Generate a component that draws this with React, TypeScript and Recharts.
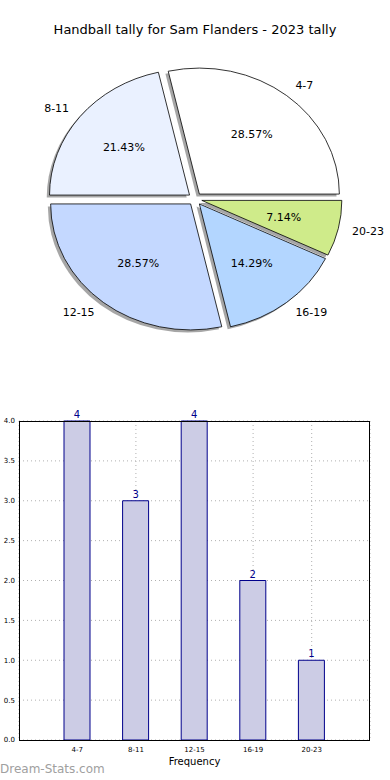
import { PieChart, Pie, Cell, BarChart, Bar, XAxis, YAxis, CartesianGrid, LabelList } from "recharts";

/* ===== data ===== */
const categories = ["4-7", "8-11", "12-15", "16-19", "20-23"];
const counts = [4, 3, 4, 2, 1];
const sliceColors = ["#ffffff", "#eaf1ff", "#c4d8ff", "#b3d6ff", "#cfeb8a"];
const yTicks = [0, 0.5, 1, 1.5, 2, 2.5, 3, 3.5, 4];

const FONT = "'DejaVu Sans', sans-serif";
const RAD = Math.PI / 180;
const Y_SCALE = 0.9; // pie is drawn as an ellipse, like the un-equal matplotlib axes
const EXPLODE = 0.05;

const total = counts.reduce((a, b) => a + b, 0);
const pieData = categories.map((c, i) => ({ name: c, value: counts[i] }));
const barData = categories.map((c, i) => ({ name: c, count: counts[i] }));

// point on ellipse around (cx, cy)
const pt = (cx: number, cy: number, r: number, deg: number) => [
  cx + r * Math.cos(deg * RAD),
  cy - r * Y_SCALE * Math.sin(deg * RAD),
];

const wedgePath = (cx: number, cy: number, r: number, a0: number, a1: number) => {
  const [x0, y0] = pt(cx, cy, r, a0);
  const [x1, y1] = pt(cx, cy, r, a1);
  const large = a1 - a0 > 180 ? 1 : 0;
  return `M${cx},${cy} L${x0},${y0} A${r},${r * Y_SCALE} 0 ${large} 0 ${x1},${y1} Z`;
};

const Wedge = (props: any) => {
  const { cx, cy, outerRadius, startAngle, endAngle, midAngle, fill } = props;
  const ex = cx + EXPLODE * outerRadius * Math.cos(midAngle * RAD);
  const ey = cy - EXPLODE * outerRadius * Y_SCALE * Math.sin(midAngle * RAD);
  return (
    <g>
      <path
        d={wedgePath(ex - 2.8, ey + 2.5, outerRadius, startAngle, endAngle)}
        fill="#4d4d4d"
        fillOpacity={0.5}
        stroke="none"
      />
      <path
        d={wedgePath(ex, ey, outerRadius, startAngle, endAngle)}
        fill={fill}
        stroke="#000"
        strokeWidth={0.8}
      />
    </g>
  );
};

const PieLabels = (props: any) => {
  const { cx, cy, outerRadius, midAngle, name, value } = props;
  const ex = cx + EXPLODE * outerRadius * Math.cos(midAngle * RAD);
  const ey = cy - EXPLODE * outerRadius * Y_SCALE * Math.sin(midAngle * RAD);
  const [lx, ly] = pt(ex, ey, outerRadius * 1.1, midAngle);
  const [px, py] = pt(ex, ey, outerRadius * 0.6, midAngle);
  const right = Math.cos(midAngle * RAD) >= 0;
  return (
    <g fontFamily={FONT} fontSize={11} fill="#000">
      <text x={lx} y={ly} textAnchor={right ? "start" : "end"} dominantBaseline="central">
        {name}
      </text>
      <text x={px} y={py} textAnchor="middle" dominantBaseline="central">
        {((value / total) * 100).toFixed(2)}%
      </text>
    </g>
  );
};

export default function App() {
  return (
    <div
      style={{
        position: "absolute",
        left: 0,
        top: 0,
        width: 390,
        height: 780,
        background: "#fff",
        fontFamily: FONT,
      }}
    >
      <div
        style={{
          position: "absolute",
          top: 22,
          left: 0,
          width: 390,
          textAlign: "center",
          fontSize: 13,
          color: "#000",
        }}
      >
        Handball tally for Sam Flanders - 2023 tally
      </div>

      <div style={{ position: "absolute", left: 0, top: 0 }}>
        <PieChart width={390} height={360} margin={{ top: 0, right: 0, bottom: 0, left: 0 }}>
          <Pie
            data={pieData}
            dataKey="value"
            nameKey="name"
            cx={195}
            cy={199}
            outerRadius={140}
            startAngle={0}
            endAngle={360}
            stroke="none"
            shape={Wedge}
            inactiveShape={Wedge}
            activeShape={Wedge}
            label={PieLabels}
            labelLine={false}
            isAnimationActive={false}
          >
            {pieData.map((d, i) => (
              <Cell key={d.name} fill={sliceColors[i]} />
            ))}
          </Pie>
        </PieChart>
      </div>

      <div style={{ position: "absolute", left: 0, top: 405 }}>
        <BarChart
          width={390}
          height={370}
          data={barData}
          margin={{ top: 16, right: 20, bottom: 0, left: 0 }}
        >
          <CartesianGrid stroke="#b0b0b0" strokeDasharray="1 3" />
          <XAxis
            dataKey="name"
            padding={{ left: 29, right: 29 }}
            tickLine={false}
            axisLine={false}
            tick={{ fontSize: 7, fill: "#000", fontFamily: FONT }}
            tickMargin={1}
            height={35}
            label={{
              value: "Frequency",
              position: "insideBottom",
              offset: 10,
              fontSize: 10,
              fill: "#000",
              fontFamily: FONT,
            }}
          />
          <YAxis
            domain={[0, 4]}
            ticks={yTicks}
            tickFormatter={(v: number) => v.toFixed(1)}
            tickLine={false}
            axisLine={false}
            width={19}
            tickSize={0}
            tick={{ fontSize: 7, fill: "#000", fontFamily: FONT }}
            tickMargin={4}
          />
          <Bar
            dataKey="count"
            barSize={26}
            fill="#ccccE5"
            stroke="#00008b"
            strokeWidth={1}
            isAnimationActive={false}
          >
            <LabelList
              dataKey="count"
              position="top"
              offset={3}
              fill="#00008b"
              fontSize={10}
              fontFamily={FONT}
            />
          </Bar>
        </BarChart>
        <div
          style={{
            position: "absolute",
            left: 19,
            top: 16,
            width: 351,
            height: 320,
            border: "1px solid #000",
            boxSizing: "border-box",
            pointerEvents: "none",
          }}
        />
      </div>

      <div
        style={{
          position: "absolute",
          left: 0,
          top: 762,
          fontSize: 12,
          color: "#a0a0a0",
          fontFamily: "'DejaVu Sans', sans-serif",
        }}
      >
        Dream-Stats.com
      </div>
    </div>
  );
}
